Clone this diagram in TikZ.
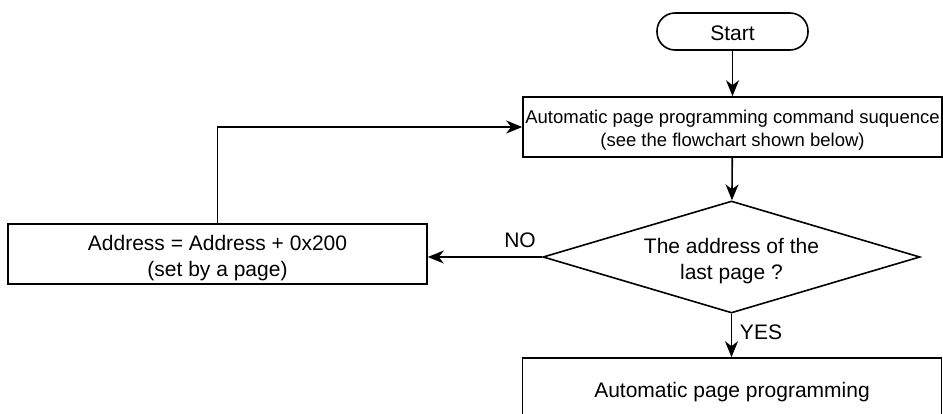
\documentclass[tikz,border=0pt]{standalone}
\usepackage{fontspec}
\setmainfont{Liberation Sans}
\usetikzlibrary{shapes.geometric,arrows.meta}
\tikzset{
  line/.style={line width=1.6pt, draw=black},
  arr/.style={line, -{Stealth[length=16pt,width=13pt,inset=5pt]}},
  bigtxt/.style={font=\fontsize{21}{26}\selectfont, align=center, inner sep=0pt},
  smalltxt/.style={font=\fontsize{18.5}{23}\selectfont, align=center, inner sep=0pt},
  procbox/.style={line, rectangle, inner sep=0pt, minimum width=419pt, minimum height=60pt},
  termbox/.style={line, rectangle, rounded corners=18pt, inner sep=0pt, minimum width=151pt, minimum height=37pt},
  decbox/.style={line, diamond, shape aspect=3.37, inner sep=0pt, minimum width=377pt, minimum height=112pt},
  lbl/.style={font=\fontsize{21}{26}\selectfont, inner sep=0pt}
}
\begin{document}
\begin{tikzpicture}[x=1pt, y=-1pt]
  \fill[white] (0,0) rectangle (943,413);
  \useasboundingbox (0,0) rectangle (943,413);
  \clip (0,0) rectangle (943,413);
  % shapes
  \node[termbox] (start) at (732.5,31.5) {};
  \node[procbox] (cmd) at (732.5,127) {};
  \node[decbox] (dec) at (731.5,257) {};
  \node[procbox] (addr) at (217.5,254) {};
  \node[procbox] (prog) at (732,388) {};
  % texts
  \node[bigtxt] (start-t) at ([yshift=-2pt]start.center) {Start};
  \node[smalltxt] (cmd-t) at ([yshift=-3pt]cmd.center) {Automatic page programming command suquence\\(see the flowchart shown below)};
  \node[bigtxt] (dec-t) at ([yshift=-4pt]dec.center) {The address of the\\last page ?};
  \node[bigtxt] (addr-t) at ([yshift=-4pt]addr.center) {Address = Address + 0x200\\(set by a page)};
  \node[bigtxt] (prog-t) at ([yshift=-4pt]prog.center) {Automatic page programming};
  \node[lbl] (no) at (520,240) {NO};
  \node[lbl] (yes) at (761,332) {YES};
  % connectors
  \draw[arr] (start) -- (cmd);
  \draw[arr] (cmd) -- (dec);
  \draw[arr] (dec.south) -- (dec.south |- prog.north);
  \draw[arr] (dec.west) -- (dec.west -| addr.east);
  \draw[arr] (addr.north) |- (cmd.west);
\end{tikzpicture}
\end{document}
